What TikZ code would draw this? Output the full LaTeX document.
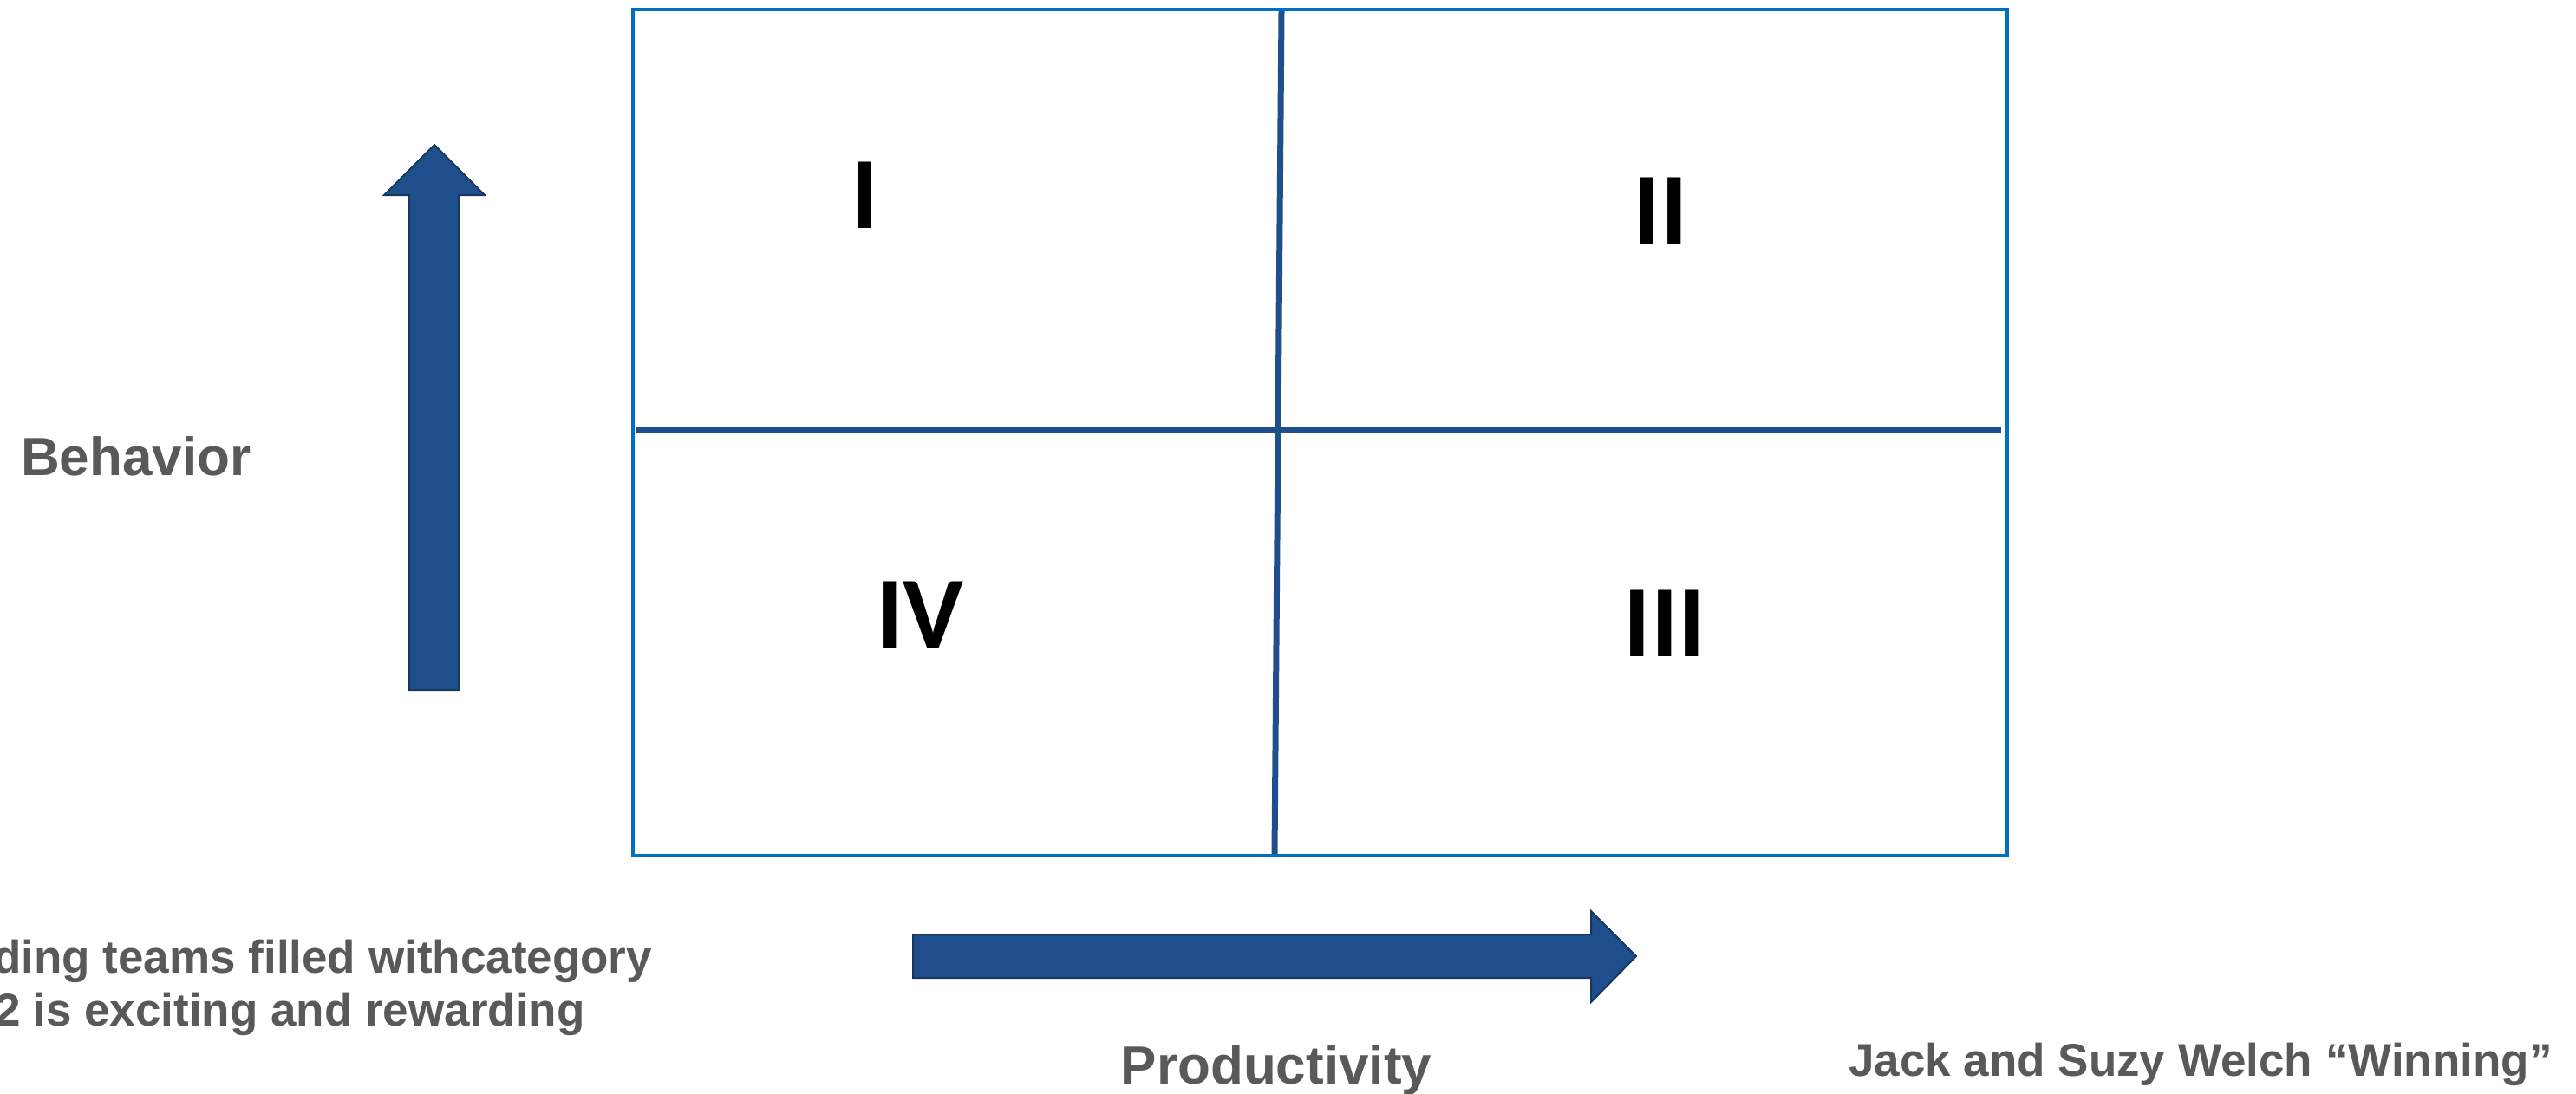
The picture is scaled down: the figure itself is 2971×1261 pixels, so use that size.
\documentclass[tikz,border=0pt]{standalone}
\usepackage{fontspec}
\setmainfont{Liberation Sans}
\newfontfamily\numfont{Carlito}
\definecolor{boxblue}{HTML}{0070C0}
\definecolor{divblue}{HTML}{1F4E8C}
\definecolor{arrowfill}{HTML}{1F4E8C}
\definecolor{arrowline}{HTML}{17375E}
\definecolor{txtgray}{HTML}{58595B}
\begin{document}
\begin{tikzpicture}[x=1pt,y=-1pt,
  biglabel/.style={text=txtgray, font=\bfseries\fontsize{62}{72}\selectfont, inner sep=0pt},
  smalllabel/.style={text=txtgray, font=\bfseries\fontsize{53}{62}\selectfont, inner sep=0pt},
  numeral/.style={text=black, font=\numfont\bfseries\fontsize{118}{130}\selectfont, inner sep=0pt, anchor=base},
  divider/.style={draw=divblue, line width=7pt},
  blockarrow/.style={fill=arrowfill, draw=arrowline, line width=2pt, line join=miter}]
\useasboundingbox (0,0) rectangle (2971,1261);
% quadrant frame
\draw[boxblue, line width=3.5pt] (730,11) rectangle (2315,987);
\coordinate (vtop) at (1478,13);
\coordinate (vbot) at (1470,985);
\coordinate (hleft) at (733,496);
\coordinate (hright) at (2308,496);
\draw[divider] (hleft) -- (hright);
\draw[divider] (vtop) -- (vbot);
% numerals
\node[numeral] (q1) at (997,263) {I};
\node[numeral] (q2) at (1915,281) {II};
\node[numeral] (q3) at (1920,757) {III};
\node[numeral] (q4) at (1061,747) {IV};
% up arrow
\draw[blockarrow] (472,796) -- (472,225) -- (443,225) -- (501,167) -- (559,225) -- (529,225) -- (529,796) -- cycle;
% right arrow
\draw[blockarrow] (1053,1078) -- (1835,1078) -- (1835,1051) -- (1887,1103) -- (1835,1156) -- (1835,1128) -- (1053,1128) -- cycle;
% texts
\node[biglabel, anchor=base west] (behav) at (24,548) {Behavior};
\node[biglabel, anchor=base] (prod) at (1472,1250) {Productivity};
\node[smalllabel, anchor=base west] (cite) at (2132,1241) {Jack and Suzy Welch “Winning”};
\node[smalllabel, anchor=base west] (note1) at (-8,1122) {ding teams filled withcategory};
\node[smalllabel, anchor=base west] (note2) at (-6,1183) {2 is exciting and rewarding};
\end{tikzpicture}
\end{document}
